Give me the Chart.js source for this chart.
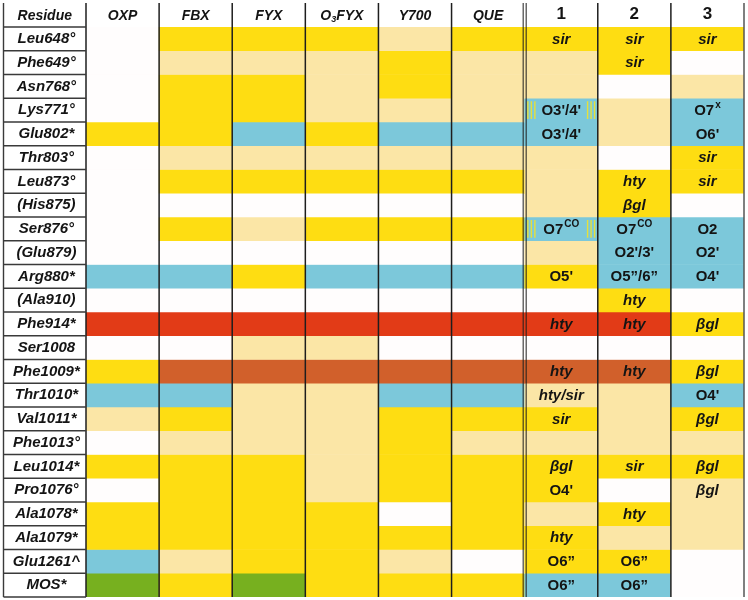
<!DOCTYPE html>
<html>
<head>
<meta charset="utf-8">
<script src="https://cdn.jsdelivr.net/npm/chart.js@4/dist/chart.umd.min.js"></script>
<style>
  html, body { margin: 0; padding: 0; background: #ffffff; }
  #wrap { width: 748px; height: 600px; }
</style>
</head>
<body>
<div id="wrap"><canvas id="c" width="748" height="600"></canvas></div>
<script>
// ---- data ----
const columns = ['OXP', 'FBX', 'FYX', 'O\u2083FYX', 'Y700', 'QUE', '1', '2', '3'];
const residues = ['Leu648°', 'Phe649°', 'Asn768°', 'Lys771°', 'Glu802*', 'Thr803°', 'Leu873°', '(His875)',
  'Ser876°', '(Glu879)', 'Arg880*', '(Ala910)', 'Phe914*', 'Ser1008', 'Phe1009*', 'Thr1010*', 'Val1011*',
  'Phe1013°', 'Leu1014*', 'Pro1076°', 'Ala1078*', 'Ala1079*', 'Glu1261^', 'MOS*'];

// interaction codes per column, one letter per residue (top to bottom)
// Y = strong, L = weak, W = none, B = H-bond, R = pi-stack, O = pi-stack (weak), G = metal
const codesOXP   = 'WWWWYWWWWWBWRWYBLWYWYYBG';
const codesFBX   = 'YLYYYLYWYWBWRWOBYLYYYYLY';
const codesFYX   = 'YLYYBLYWLWYWRLOLLLYYYYYG';
const codesO3FYX = 'YLLLYLYWYWBWRLOLLLLLYYYY';
const codesY700  = 'LYYLBLYWYWBWRWOBYYYYWYLY';
const codesQUE   = 'YLLLBLYWYWBWRWOBYLYYYYWY';
const codes1     = 'YLLBBLLLBLYWRWOLYLYYLYYB';
const codes2     = 'YYWLLWYYBBBYRWOLLLYWYLYB';
const codes3     = 'YWLBBYYWBBBWYWYBYLYLLLWW';

// cell texts for compounds 1, 2, 3 ('' = none, ^ marks superscript)
const text1 = ['sir', '', '', "O3'/4'", "O3'/4'", '', '', '', 'O7^CO', '', "O5'", '', 'hty', '', 'hty',
  'hty/sir', 'sir', '', 'βgl', "O4'", '', 'hty', 'O6\u201d', 'O6\u201d'];
const text2 = ['sir', 'sir', '', '', '', '', 'hty', 'βgl', 'O7^CO', "O2'/3'", 'O5\u201d/6\u201d', 'hty', 'hty', '',
  'hty', '', '', '', 'sir', '', 'hty', '', 'O6\u201d', 'O6\u201d'];
const text3 = ['sir', '', '', 'O7^x', "O6'", 'sir', 'sir', '', 'O2', "O2'", "O4'", '', 'βgl', '', 'βgl',
  "O4'", 'βgl', '', 'βgl', 'βgl', '', '', '', ''];
// residues where compound 1 shows a split (hatched) contact
const hatched1 = ['Lys771°', 'Ser876°'];

// ---- styles ----
const palette = { Y: '#fedd12', L: '#fbe6a6', W: '#fffdfd', B: '#7cc8da', R: '#e23b17', O: '#d1602b', G: '#77b01f' };
const columnCodes = [codesOXP, codesFBX, codesFYX, codesO3FYX, codesY700, codesQUE, codes1, codes2, codes3];
const columnTexts = { 6: text1, 7: text2, 8: text3 };

const datasets = residues.map((res, r) => ({
  label: res,
  data: columns.map(() => [r, r + 1]),
  backgroundColor: columnCodes.map(c => palette[c[r]]),
  borderWidth: 0,
  grouped: false,
  barPercentage: 1,
  categoryPercentage: 1
}));

const FONT = '"Liberation Sans", Arial, sans-serif';

const tablePlugin = {
  id: 'tablePlugin',
  afterDatasetsDraw(chart) {
    const ctx = chart.ctx;
    const xs = chart.scales.x, ys = chart.scales.y;
    const area = chart.chartArea;
    const top = 3, bottom = area.bottom;
    ctx.save();

    // hatching in compound 1 column
    hatched1.forEach(res => {
      const r = residues.indexOf(res);
      const el = chart.getDatasetMeta(r).data[6];
      const l = el.x - el.width / 2, rgt = el.x + el.width / 2;
      const y0 = Math.min(el.y, el.base) + 3, y1 = Math.max(el.y, el.base) - 3;
      ctx.fillStyle = '#e6e03c';
      [2.5, 6, 9.5].forEach(o => {
        ctx.fillRect(l + o, y0, 1.4, y1 - y0);
        ctx.fillRect(rgt - o - 1.4, y0, 1.4, y1 - y0);
      });
    });

    // cell texts
    ctx.fillStyle = '#141414';
    ctx.textBaseline = 'middle';
    Object.keys(columnTexts).forEach(ci => {
      const texts = columnTexts[ci];
      texts.forEach((t, r) => {
        if (!t) return;
        const el = chart.getDatasetMeta(r).data[+ci];
        const cx = el.x, cy = (el.y + el.base) / 2 + 0.5;
        const italic = /^[a-zβ]/.test(t);
        const base = t.split('^')[0], sup = t.split('^')[1] || '';
        ctx.font = (italic ? 'italic bold 15px ' : 'bold 15px ') + FONT;
        const wb = ctx.measureText(base).width;
        ctx.font = 'bold 10px ' + FONT;
        const ws = sup ? ctx.measureText(sup).width + 1 : 0;
        const x0 = cx - (wb + ws) / 2;
        ctx.textAlign = 'left';
        ctx.font = (italic ? 'italic bold 15px ' : 'bold 15px ') + FONT;
        ctx.fillText(base, x0, cy);
        if (sup) {
          ctx.font = 'bold 10px ' + FONT;
          ctx.fillText(sup, x0 + wb + 1, cy - 5);
        }
      });
    });

    // vertical column separators
    ctx.strokeStyle = '#1e1e1e';
    ctx.lineWidth = 1.5;
    const edges = [area.left];
    for (let i = 0; i < columns.length - 1; i++) {
      edges.push((xs.getPixelForValue(i) + xs.getPixelForValue(i + 1)) / 2);
    }
    edges.push(area.right);
    edges.forEach((x, i) => {
      if (i === 6) {
        ctx.lineWidth = 1;
        [-1.5, 1.5].forEach(d => {
          ctx.beginPath(); ctx.moveTo(x + d, top); ctx.lineTo(x + d, bottom); ctx.stroke();
        });
        ctx.lineWidth = 1.5;
      } else {
        ctx.strokeStyle = i === edges.length - 1 ? '#555' : '#1e1e1e';
        ctx.beginPath(); ctx.moveTo(x, top); ctx.lineTo(x, bottom); ctx.stroke();
      }
    });

    // residue label boxes
    ctx.strokeStyle = '#3a3a3a';
    ctx.lineWidth = 1.4;
    const bl = 3.5, br = area.left;
    ctx.beginPath();
    ctx.moveTo(bl, top); ctx.lineTo(bl, bottom);
    for (let r = 0; r <= residues.length; r++) {
      const y = ys.getPixelForValue(r);
      ctx.moveTo(bl, y); ctx.lineTo(br, y);
    }
    ctx.stroke();

    // header label for residue column
    ctx.fillStyle = '#141414';
    ctx.textAlign = 'center';
    ctx.textBaseline = 'alphabetic';
    ctx.font = 'italic bold 14px ' + FONT;
    ctx.fillText('Residue', (bl + br) / 2, 20);

    // header with subscript (O3FYX)
    const si = columns.findIndex(c => c.indexOf('\u2083') >= 0);
    if (si >= 0) {
      const parts = columns[si].split('\u2083');
      const cx = xs.getPixelForValue(si);
      ctx.font = 'italic bold 14px ' + FONT;
      const w0 = ctx.measureText(parts[0]).width;
      const w2 = ctx.measureText(parts[1]).width;
      ctx.font = 'italic bold 9px ' + FONT;
      const w1 = ctx.measureText('3').width;
      let x = cx - (w0 + w1 + w2) / 2;
      ctx.textAlign = 'left';
      ctx.font = 'italic bold 14px ' + FONT;
      ctx.fillText(parts[0], x, 20); x += w0;
      ctx.font = 'italic bold 9px ' + FONT;
      ctx.fillText('3', x, 22); x += w1;
      ctx.font = 'italic bold 14px ' + FONT;
      ctx.fillText(parts[1], x, 20);
    }
    ctx.restore();
  }
};

new Chart(document.getElementById('c'), {
  type: 'bar',
  data: { labels: columns, datasets },
  plugins: [tablePlugin],
  options: {
    responsive: false,
    animation: false,
    events: [],
    layout: { padding: { left: 3, top: 3, right: 4, bottom: 3 } },
    plugins: { legend: { display: false }, tooltip: { enabled: false } },
    scales: {
      x: {
        type: 'category',
        position: 'top',
        offset: true,
        grid: { display: false, drawTicks: false },
        border: { display: false },
        ticks: {
          padding: 2,
          color: '#141414',
          maxRotation: 0,
          autoSkip: false,
          callback: function (v) { const l = this.getLabelForValue(v); return l.indexOf('\u2083') >= 0 ? '' : l; },
          font: (c) => c.index >= 6
            ? { family: FONT, size: 17, weight: 'bold', style: 'normal' }
            : { family: FONT, size: 14, weight: 'bold', style: 'italic' }
        },
        afterFit: (s) => { s.height = 24; s.paddingLeft = 0; s.paddingRight = 0; }
      },
      y: {
        type: 'linear',
        reverse: true,
        min: 0,
        max: residues.length,
        grid: { display: false, drawTicks: false },
        border: { display: false },
        afterBuildTicks: (s) => { s.ticks = residues.map((_, i) => ({ value: i + 0.5 })); },
        ticks: {
          padding: 6,
          crossAlign: 'center',
          color: '#141414',
          font: { family: FONT, size: 15, weight: 'bold', style: 'italic' },
          callback: (v) => residues[Math.floor(v)]
        },
        afterFit: (s) => { s.width = 83; s.paddingTop = 0; s.paddingBottom = 0; }
      }
    }
  }
});
</script>
</body>
</html>
